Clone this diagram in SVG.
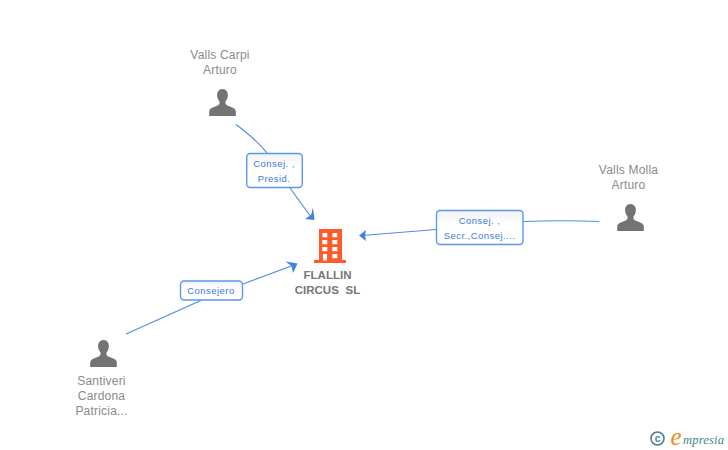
<svg xmlns="http://www.w3.org/2000/svg" width="728" height="450" viewBox="0 0 728 450">
<defs>
<linearGradient id="lb" x1="0" y1="0" x2="0" y2="1"><stop offset="0" stop-color="#f2f2f2"/><stop offset="0.4" stop-color="#ffffff"/></linearGradient>
<path id="person" d="M0 -14.500C-3.600 -14.500 -5.400 -11.500 -5.400 -8.400C-5.400 -5.600 -4.200 -3.400 -3 -2V-0.300C-3 1.400 -5 2.200 -8 3.200C-11.600 4.400 -13.300 5.600 -13.300 8.200V12.600H13.300V8.200C13.300 5.600 11.600 4.400 8 3.200C5 2.200 3 1.400 3 -0.300V-2C4.200 -3.400 5.400 -5.600 5.400 -8.400C5.400 -11.500 3.600 -14.500 0 -14.500Z"/>
</defs>
<style>
text{font-family:"Liberation Sans",Arial,sans-serif}
.name{font-size:12px;letter-spacing:.2px;fill:#8a8a8a;text-anchor:middle}
.co{font-size:11.5px;font-weight:bold;fill:#767676;text-anchor:middle;word-spacing:3.5px}
.lbl{font-size:9.5px;letter-spacing:.45px;fill:#3a78dc;text-anchor:middle}
.box{fill:url(#lb);stroke:#5b98ea;stroke-width:1.4}
.edge{fill:none;stroke:#4a8fe8;stroke-width:1.2}
.head{fill:#3f80e0}
.p{fill:#737373}
</style>
<rect width="728" height="450" fill="#ffffff"/>
<g id="connectors">
<path class="edge" d="M236 124.500C250 135 260 144 267 153"/>
<path class="edge" d="M290 188L311 217"/>
<path class="head" d="M314.500 220L305 219L311 215L313 207.500Z"/>
<path class="edge" d="M523 221.500C550 220.500 575 220.500 599 221.500"/>
<path class="edge" d="M436 229.500L362 235.500"/>
<path class="head" d="M359 235.500L366 230L365 235.500L366 241Z"/>
<path class="edge" d="M126 334L202 300"/>
<path class="edge" d="M243 284L294 265"/>
<path class="head" d="M297.500 263.500L293 273L291.500 266L285.500 261.500Z"/>
</g>
<g id="node-valls-carpi">
<text class="name" x="220" y="59">Valls Carpi</text>
<text class="name" x="220" y="74">Arturo</text>
<use href="#person" class="p" x="222.500" y="103.500"/>
</g>
<g id="node-valls-molla">
<text class="name" x="628.500" y="174">Valls Molla</text>
<text class="name" x="628.500" y="189">Arturo</text>
<use href="#person" class="p" x="630.500" y="218.500"/>
</g>
<g id="node-santiveri">
<use href="#person" class="p" x="103.500" y="354.500"/>
<text class="name" x="101.500" y="385">Santiveri</text>
<text class="name" x="101.500" y="400">Cardona</text>
<text class="name" x="101.500" y="415">Patricia...</text>
</g>
<g id="node-flallin">
<path fill="#ff5a2b" fill-rule="evenodd" d="M319 229H342V260H346V263H314V260H319ZM322.300 233V237.300H327.300V233ZM332.300 233V237.300H337.300V233ZM322.300 240V244.300H327.300V240ZM332.300 240V244.300H337.300V240ZM322.300 247V251.300H327.300V247ZM332.300 247V251.300H337.300V247ZM323 254V260.500H327V254ZM332.300 254V258.300H337.300V254Z"/>
<text class="co" x="327.500" y="279">FLALLIN</text>
<text class="co" x="327.500" y="294">CIRCUS SL</text>
</g>
<g id="label-presid">
<rect class="box" x="246.700" y="153.500" width="55.600" height="34" rx="3.500"/>
<text class="lbl" x="274" y="167">Consej. ,</text>
<text class="lbl" x="274" y="182">Presid.</text>
</g>
<g id="label-secr">
<rect class="box" x="436.500" y="210.500" width="86.500" height="34" rx="3.500"/>
<text class="lbl" x="479.500" y="224">Consej. ,</text>
<text class="lbl" x="479.500" y="239">Secr.,Consej....</text>
</g>
<g id="label-consejero">
<rect class="box" x="180.500" y="281" width="62" height="19" rx="3.500"/>
<text class="lbl" x="211" y="294">Consejero</text>
</g>
<g id="logo">
<circle cx="657.500" cy="438.500" r="6.500" fill="none" stroke="#4a7f95" stroke-width="1.600"/>
<text x="657.500" y="442" font-size="10" font-weight="bold" fill="#4a7f95" text-anchor="middle">c</text>
<text x="670.500" y="445" font-size="25" font-style="italic" fill="#f08a1d" style="font-family:'Liberation Serif',serif">e</text>
<text x="683" y="444" font-size="12.500" font-style="italic" letter-spacing=".2" fill="#3f7f8f" style="font-family:'Liberation Serif',serif">mpresia</text>
</g>
</svg>
